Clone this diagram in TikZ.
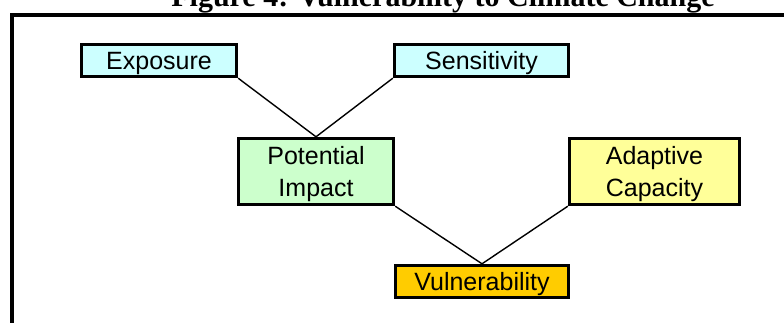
\documentclass[tikz,border=0pt]{standalone}
\usepackage{fontspec}
\setmainfont{Liberation Sans}
\newfontfamily\titlefont{Liberation Serif}
\definecolor{boxcyan}{HTML}{CCFFFF}
\definecolor{boxgreen}{HTML}{CCFFCC}
\definecolor{boxyellow}{HTML}{FFFF99}
\definecolor{boxorange}{HTML}{FFCC00}
\begin{document}
\begin{tikzpicture}[x=1pt,y=-1pt,
  factor/.style={draw=black, line width=3.4pt, rectangle, inner sep=0pt,
    font=\fontsize{25}{32}\selectfont, align=center, text height=18pt, text depth=0pt},
  twoline/.style={text height=50pt},
  link/.style={draw=black, line width=1.4pt}]
\useasboundingbox (0,0) rectangle (784,322);
\clip (0,0) rectangle (784,322);
% title (cut at top)
\node[anchor=base, font=\titlefont\bfseries\fontsize{30}{34}\selectfont, inner sep=0pt] (title) at (443,6.5) {Figure 4: Vulnerability to Climate Change};
% frame
\draw[line width=4pt, miter limit=10] (12,340) -- (12,15) -- (800,15);
% boxes
\node[factor, fill=boxcyan, minimum width=155pt, minimum height=32pt] (exp) at (159,60.5) {Exposure};
\node[factor, fill=boxcyan, minimum width=174pt, minimum height=32pt] (sen) at (481.5,60.5) {Sensitivity};
\node[factor, twoline, fill=boxgreen, minimum width=155pt, minimum height=66pt] (pot) at (316,171.5) {Potential\\Impact};
\node[factor, twoline, fill=boxyellow, minimum width=170pt, minimum height=66pt] (ada) at (654.5,171.5) {Adaptive\\Capacity};
\node[factor, fill=boxorange, minimum width=173pt, minimum height=32pt] (vul) at (482,281.5) {Vulnerability};
% connectors
\draw[link] (exp.south east) -- (pot.north);
\draw[link] (sen.south west) -- (pot.north);
\draw[link] (pot.south east) -- (vul.north);
\draw[link] (ada.south west) -- (vul.north);
\end{tikzpicture}
\end{document}
